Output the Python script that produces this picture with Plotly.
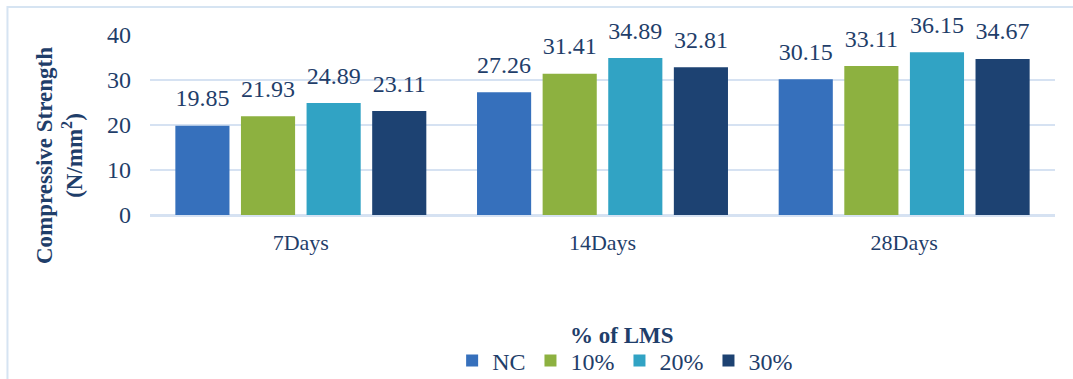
import plotly.graph_objects as go

# Compressive strength of concrete by curing age and LMS replacement level
ages = ["7Days", "14Days", "28Days"]
mix_names = ["NC", "10%", "20%", "30%"]
nc = [19.85, 27.26, 30.15]
lms_10 = [21.93, 31.41, 33.11]
lms_20 = [24.89, 34.89, 36.15]
lms_30 = [23.11, 32.81, 34.67]
y_ticks = [0, 10, 20, 30, 40]

series = [nc, lms_10, lms_20, lms_30]
colors = ["#3670BC", "#8DB140", "#31A3C4", "#1D4272"]
text_color = "#1F3E6A"
font_family = "Liberation Serif, Times New Roman, serif"
gap = 0.13

fig = go.Figure()
for i, (name, vals, col) in enumerate(zip(mix_names, series, colors)):
    fig.add_trace(go.Bar(
        x=ages, y=vals, name=name, offsetgroup=str(i),
        marker=dict(color=col, line=dict(width=0)),
    ))
# value labels, grouped the same way as the bars
for i, (name, vals) in enumerate(zip(mix_names, series)):
    fig.add_trace(go.Scatter(
        x=ages, y=vals, offsetgroup=str(i), mode="markers+text",
        marker=dict(size=20, opacity=0),
        text=[f"{v:.2f}" for v in vals], textposition="top center",
        textfont=dict(family=font_family, size=24, color=text_color),
        cliponaxis=False, showlegend=False, hoverinfo="skip",
    ))

fig.update_layout(
    width=1073, height=379,
    margin=dict(l=150, r=18, t=35, b=164),
    paper_bgcolor="white", plot_bgcolor="white",
    barmode="group", bargap=gap, bargroupgap=0.175,
    scattermode="group", scattergap=gap,
    font=dict(family=font_family, color=text_color),
    showlegend=True,
    legend=dict(
        orientation="h", x=0.525, xanchor="center",
        yref="container", y=0.048, yanchor="middle",
        font=dict(family=font_family, size=24, color=text_color),
        itemwidth=30, tracegroupgap=0,
    ),
)

fig.update_xaxes(
    showgrid=False, showline=False, zeroline=False, ticks="",
    tickfont=dict(family=font_family, size=22, color=text_color),
    ticklabelstandoff=12,
)
fig.update_yaxes(
    range=[0, 40], tickvals=y_ticks,
    showgrid=True, gridcolor="#D6E2F2", gridwidth=2,
    zeroline=True, zerolinecolor="#D6E2F2", zerolinewidth=3,
    showline=False, ticks="",
    tickfont=dict(family=font_family, size=24, color=text_color),
    ticklabelstandoff=18,
)

# Axis titles
fig.add_annotation(
    text="<b>Compressive Strength</b><br><b>(N/mm<sup>2</sup>)</b>",
    xref="paper", yref="paper", x=-0.1006, y=0.333,
    xanchor="center", yanchor="middle", textangle=-90, showarrow=False,
    font=dict(family=font_family, size=23, color=text_color),
)
fig.add_annotation(
    text="<b>% of LMS</b>",
    xref="paper", yref="paper", x=0.522, y=-0.67,
    xanchor="center", yanchor="middle", showarrow=False,
    font=dict(family=font_family, size=23, color=text_color),
)

# Chart-area border
fig.add_shape(
    type="rect", xref="paper", yref="paper",
    x0=-0.1575, x1=1.03, y0=-1.2, y1=1.155,
    line=dict(color="#D6E4F2", width=2), fillcolor="rgba(0,0,0,0)", layer="below",
)

fig.write_html("out.html")
